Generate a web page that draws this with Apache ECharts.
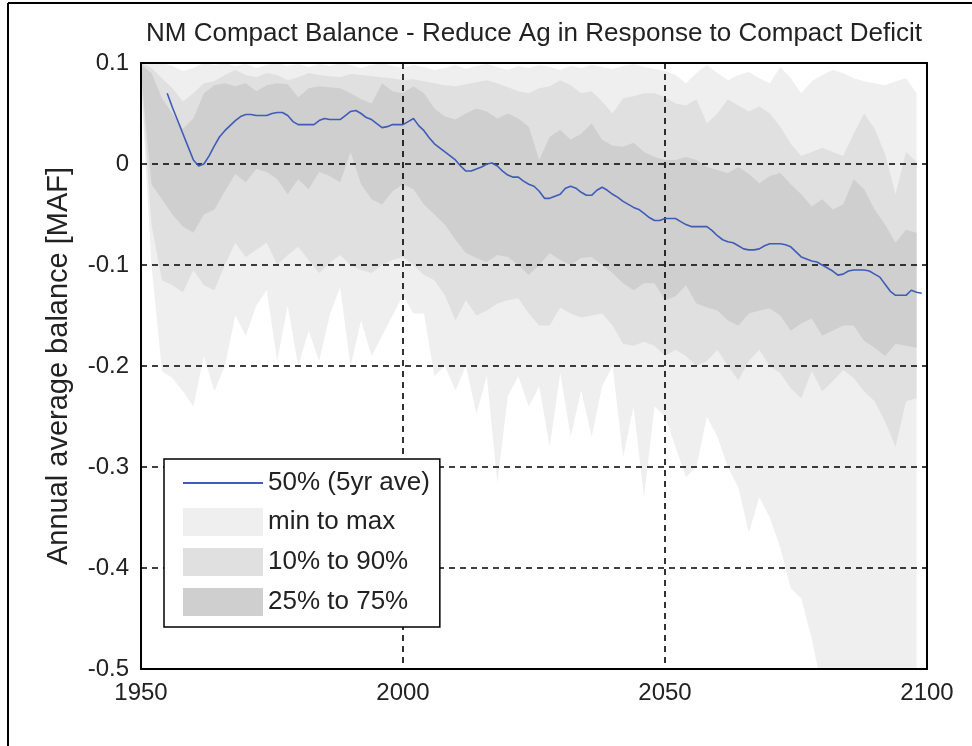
<!DOCTYPE html>
<html>
<head>
<meta charset="utf-8">
<script src="https://cdn.jsdelivr.net/npm/echarts@6/dist/echarts.min.js"></script>
<style>html,body{margin:0;padding:0;background:#fff}#c{width:972px;height:746px}</style>
</head>
<body>
<div id="c"></div>
<script>
// ---- data ----
const bandYears = [1950,1952,1954,1956,1958,1960,1962,1964,1966,1968,1970,1972,1974,1976,1978,1980,1982,1984,1986,1988,1990,1992,1994,1996,1998,2000,2002,2004,2006,2008,2010,2012,2014,2016,2018,2020,2022,2024,2026,2028,2030,2032,2034,2036,2038,2040,2042,2044,2046,2048,2050,2052,2054,2056,2058,2060,2062,2064,2066,2068,2070,2072,2074,2076,2078,2080,2082,2084,2086,2088,2090,2092,2094,2096,2098];
const maxVals = [0.1,0.1,0.1,0.097,0.092,0.095,0.1,0.098,0.1,0.097,0.099,0.095,0.098,0.1,0.097,0.099,0.096,0.099,0.097,0.1,0.098,0.095,0.098,0.1,0.097,0.095,0.098,0.096,0.093,0.095,0.098,0.094,0.097,0.099,0.096,0.093,0.097,0.095,0.098,0.096,0.093,0.097,0.095,0.098,0.096,0.094,0.097,0.099,0.096,0.094,0.092,0.088,0.08,0.09,0.098,0.09,0.083,0.088,0.091,0.085,0.08,0.096,0.085,0.07,0.082,0.088,0.093,0.09,0.085,0.082,0.08,0.078,0.082,0.085,0.07];
const p90Vals = [0.1,0.095,0.085,0.075,0.062,0.07,0.08,0.082,0.088,0.093,0.088,0.086,0.09,0.088,0.083,0.086,0.09,0.088,0.087,0.086,0.089,0.088,0.087,0.086,0.085,0.083,0.084,0.082,0.08,0.078,0.077,0.079,0.081,0.083,0.08,0.076,0.072,0.07,0.075,0.077,0.083,0.078,0.07,0.072,0.062,0.05,0.065,0.067,0.07,0.07,0.066,0.06,0.058,0.064,0.04,0.05,0.064,0.058,0.052,0.057,0.05,0.037,0.02,0.008,0.012,0.016,0.012,0.008,0.03,0.05,0.035,0.01,-0.03,0.012,0.002];
const p75Vals = [0.098,0.09,0.065,0.05,0.035,0.045,0.07,0.078,0.08,0.077,0.08,0.072,0.078,0.08,0.079,0.066,0.075,0.077,0.076,0.075,0.07,0.064,0.06,0.08,0.072,0.07,0.077,0.07,0.055,0.047,0.044,0.05,0.055,0.052,0.045,0.05,0.045,0.037,0.004,0.027,0.034,0.024,0.03,0.04,0.024,0.018,0.017,0.021,0.012,0.007,0.004,0.004,0.007,0.004,-0.003,-0.006,-0.009,-0.003,-0.01,-0.019,-0.012,-0.009,-0.02,-0.03,-0.042,-0.035,-0.045,-0.04,-0.015,-0.025,-0.045,-0.06,-0.078,-0.065,-0.068];
const p25Vals = [0.09,-0.02,-0.035,-0.05,-0.062,-0.068,-0.05,-0.045,-0.027,-0.01,-0.018,-0.005,-0.008,-0.015,-0.03,-0.015,-0.025,-0.008,-0.012,-0.018,0.012,-0.02,-0.035,-0.04,-0.027,-0.02,-0.025,-0.04,-0.05,-0.06,-0.075,-0.088,-0.093,-0.097,-0.09,-0.092,-0.1,-0.11,-0.1,-0.088,-0.095,-0.1,-0.093,-0.092,-0.1,-0.108,-0.118,-0.125,-0.118,-0.118,-0.135,-0.131,-0.12,-0.138,-0.142,-0.145,-0.155,-0.16,-0.148,-0.145,-0.143,-0.15,-0.165,-0.158,-0.153,-0.17,-0.165,-0.16,-0.16,-0.175,-0.182,-0.19,-0.178,-0.18,-0.182];
const p10Vals = [0.085,-0.06,-0.115,-0.12,-0.127,-0.105,-0.12,-0.125,-0.1,-0.078,-0.092,-0.085,-0.078,-0.1,-0.09,-0.082,-0.095,-0.108,-0.098,-0.09,-0.1,-0.105,-0.108,-0.1,-0.095,-0.092,-0.1,-0.11,-0.115,-0.13,-0.155,-0.135,-0.15,-0.145,-0.138,-0.135,-0.133,-0.148,-0.16,-0.16,-0.142,-0.148,-0.152,-0.15,-0.148,-0.16,-0.178,-0.18,-0.176,-0.18,-0.19,-0.184,-0.19,-0.2,-0.195,-0.184,-0.2,-0.214,-0.195,-0.184,-0.2,-0.207,-0.222,-0.232,-0.205,-0.225,-0.215,-0.204,-0.212,-0.225,-0.235,-0.255,-0.28,-0.235,-0.232];
const minVals = [0.08,-0.1,-0.205,-0.212,-0.225,-0.24,-0.19,-0.225,-0.2,-0.15,-0.17,-0.14,-0.125,-0.195,-0.14,-0.2,-0.165,-0.195,-0.15,-0.122,-0.2,-0.155,-0.19,-0.17,-0.15,-0.13,-0.148,-0.148,-0.21,-0.2,-0.224,-0.2,-0.247,-0.21,-0.316,-0.23,-0.21,-0.24,-0.22,-0.28,-0.207,-0.27,-0.224,-0.27,-0.22,-0.2,-0.29,-0.24,-0.33,-0.24,-0.25,-0.28,-0.31,-0.3,-0.25,-0.27,-0.3,-0.32,-0.365,-0.33,-0.35,-0.38,-0.42,-0.43,-0.47,-0.52,-0.56,-0.6,-0.6,-0.6,-0.6,-0.6,-0.6,-0.6,-0.6];

const medYears = [1955,1956,1957,1958,1959,1960,1961,1962,1963,1964,1965,1966,1967,1968,1969,1970,1971,1972,1973,1974,1975,1976,1977,1978,1979,1980,1981,1982,1983,1984,1985,1986,1987,1988,1989,1990,1991,1992,1993,1994,1995,1996,1997,1998,1999,2000,2001,2002,2003,2004,2005,2006,2007,2008,2009,2010,2011,2012,2013,2014,2015,2016,2017,2018,2019,2020,2021,2022,2023,2024,2025,2026,2027,2028,2029,2030,2031,2032,2033,2034,2035,2036,2037,2038,2039,2040,2041,2042,2043,2044,2045,2046,2047,2048,2049,2050,2051,2052,2053,2054,2055,2056,2057,2058,2059,2060,2061,2062,2063,2064,2065,2066,2067,2068,2069,2070,2071,2072,2073,2074,2075,2076,2077,2078,2079,2080,2081,2082,2083,2084,2085,2086,2087,2088,2089,2090,2091,2092,2093,2094,2095,2096,2097,2098,2099];
const medVals = [0.070,0.056,0.043,0.030,0.017,0.004,-0.002,0.000,0.008,0.018,0.027,0.033,0.038,0.043,0.047,0.049,0.049,0.048,0.048,0.048,0.050,0.051,0.051,0.048,0.042,0.039,0.039,0.039,0.039,0.043,0.045,0.044,0.044,0.044,0.048,0.052,0.053,0.050,0.046,0.044,0.040,0.036,0.037,0.039,0.039,0.039,0.042,0.045,0.038,0.033,0.026,0.020,0.016,0.012,0.008,0.004,-0.002,-0.007,-0.007,-0.005,-0.003,0.000,0.001,-0.002,-0.007,-0.011,-0.013,-0.013,-0.017,-0.020,-0.022,-0.027,-0.034,-0.034,-0.032,-0.030,-0.024,-0.022,-0.024,-0.028,-0.031,-0.031,-0.026,-0.023,-0.026,-0.030,-0.033,-0.037,-0.040,-0.043,-0.045,-0.049,-0.053,-0.056,-0.056,-0.054,-0.054,-0.054,-0.057,-0.060,-0.062,-0.062,-0.062,-0.062,-0.066,-0.071,-0.075,-0.077,-0.078,-0.081,-0.084,-0.085,-0.085,-0.084,-0.081,-0.079,-0.079,-0.079,-0.080,-0.082,-0.087,-0.092,-0.094,-0.096,-0.097,-0.100,-0.103,-0.106,-0.110,-0.109,-0.106,-0.105,-0.105,-0.105,-0.106,-0.109,-0.112,-0.119,-0.126,-0.130,-0.130,-0.130,-0.125,-0.127,-0.128];

const xTicks = [1950, 2000, 2050, 2100];
const yTicks = [-0.5, -0.4, -0.3, -0.2, -0.1, 0, 0.1];

// ---- chart ----
const FONT = "'Liberation Sans', Arial, sans-serif";
const pairs = (xs, ys) => xs.map((x, i) => [x, ys[i]]);

function band(name, lo, hi, color) {
  return {
    type: 'custom', name: name, coordinateSystem: 'cartesian2d',
    data: [[bandYears[0], hi[0]]], color: color, itemStyle: { color: color },
    silent: true, z: 2,
    renderItem: function (params, api) {
      const up = bandYears.map((y, i) => api.coord([y, hi[i]]));
      const dn = bandYears.map((y, i) => api.coord([y, lo[i]])).reverse();
      const cs = params.coordSys;
      return {
        type: 'polygon', shape: { points: up.concat(dn) }, style: { fill: color, stroke: null },
        clipPath: { type: 'rect', shape: { x: cs.x, y: cs.y, width: cs.width, height: cs.height } }
      };
    }
  };
}

const chart = echarts.init(document.getElementById('c'), null, { renderer: 'canvas' });
const axisLbl = { fontFamily: FONT, fontSize: 24, color: '#222' };
chart.setOption({
  animation: false,
  backgroundColor: '#fff',
  title: {
    text: 'NM Compact Balance - Reduce Ag in Response to Compact Deficit',
    left: 529, top: 16, textAlign: 'center',
    textStyle: { fontFamily: FONT, fontSize: 26, fontWeight: 'normal', color: '#222' }
  },
  grid: { left: 141, top: 63, width: 786, height: 606, containLabel: false },
  xAxis: [{
    type: 'value', min: xTicks[0], max: xTicks[xTicks.length - 1], interval: 50, z: 5,
    axisLine: { show: true, onZero: false, lineStyle: { color: '#000', width: 2 } },
    axisTick: { show: false },
    axisLabel: Object.assign({ margin: 12, formatter: v => String(v) }, axisLbl),
    splitLine: { show: true, lineStyle: { color: '#000', width: 1.6, type: [6, 5] } }
  }, {
    type: 'value', position: 'top', min: 1950, max: 2100, interval: 50, z: 5,
    axisLine: { show: true, onZero: false, lineStyle: { color: '#000', width: 2 } },
    axisTick: { show: false }, axisLabel: { show: false }, splitLine: { show: false }
  }],
  yAxis: [{
    type: 'value', min: yTicks[0], max: yTicks[yTicks.length - 1], interval: 0.1, z: 5,
    name: 'Annual average balance [MAF]', nameLocation: 'middle', nameGap: 68,
    nameTextStyle: { fontFamily: FONT, fontSize: 29, color: '#222' },
    axisLine: { show: true, onZero: false, lineStyle: { color: '#000', width: 2 } },
    axisTick: { show: false },
    axisLabel: Object.assign({ margin: 12, formatter: v => String(+v.toFixed(1)) }, axisLbl),
    splitLine: { show: true, lineStyle: { color: '#000', width: 1.6, type: [6, 5] } }
  }, {
    type: 'value', position: 'right', min: -0.5, max: 0.1, interval: 0.1, z: 5,
    axisLine: { show: true, onZero: false, lineStyle: { color: '#000', width: 2 } },
    axisTick: { show: false }, axisLabel: { show: false }, splitLine: { show: false }
  }],
  legend: {
    orient: 'vertical', left: 164, top: 459, z: 10,
    backgroundColor: '#fff', borderColor: '#000', borderWidth: 1.5,
    padding: [11, 10, 11, 18], itemWidth: 80, itemHeight: 28, itemGap: 12,
    textStyle: { fontFamily: FONT, fontSize: 26, color: '#222' },
    data: [
      { name: '50% (5yr ave)', itemStyle: { opacity: 0 } },
      { name: 'min to max', icon: 'rect' },
      { name: '10% to 90%', icon: 'rect' },
      { name: '25% to 75%', icon: 'rect' }
    ]
  },
  graphic: [
    { type: 'line', shape: { x1: 8, y1: 3, x2: 8, y2: 746 }, style: { stroke: '#000', lineWidth: 2 }, silent: true },
    { type: 'line', shape: { x1: 8, y1: 3, x2: 972, y2: 3 }, style: { stroke: '#000', lineWidth: 2 }, silent: true }
  ],
  series: [
    band('min to max', minVals, maxVals, '#efefef'),
    band('10% to 90%', p10Vals, p90Vals, '#e0e0e0'),
    band('25% to 75%', p25Vals, p75Vals, '#cfcfcf'),
    {
      type: 'line', name: '50% (5yr ave)', data: pairs(medYears, medVals), symbol: 'none', z: 6,
      color: '#3e5cb8', lineStyle: { color: '#3e5cb8', width: 1.6 }
    }
  ]
});
</script>
</body>
</html>
